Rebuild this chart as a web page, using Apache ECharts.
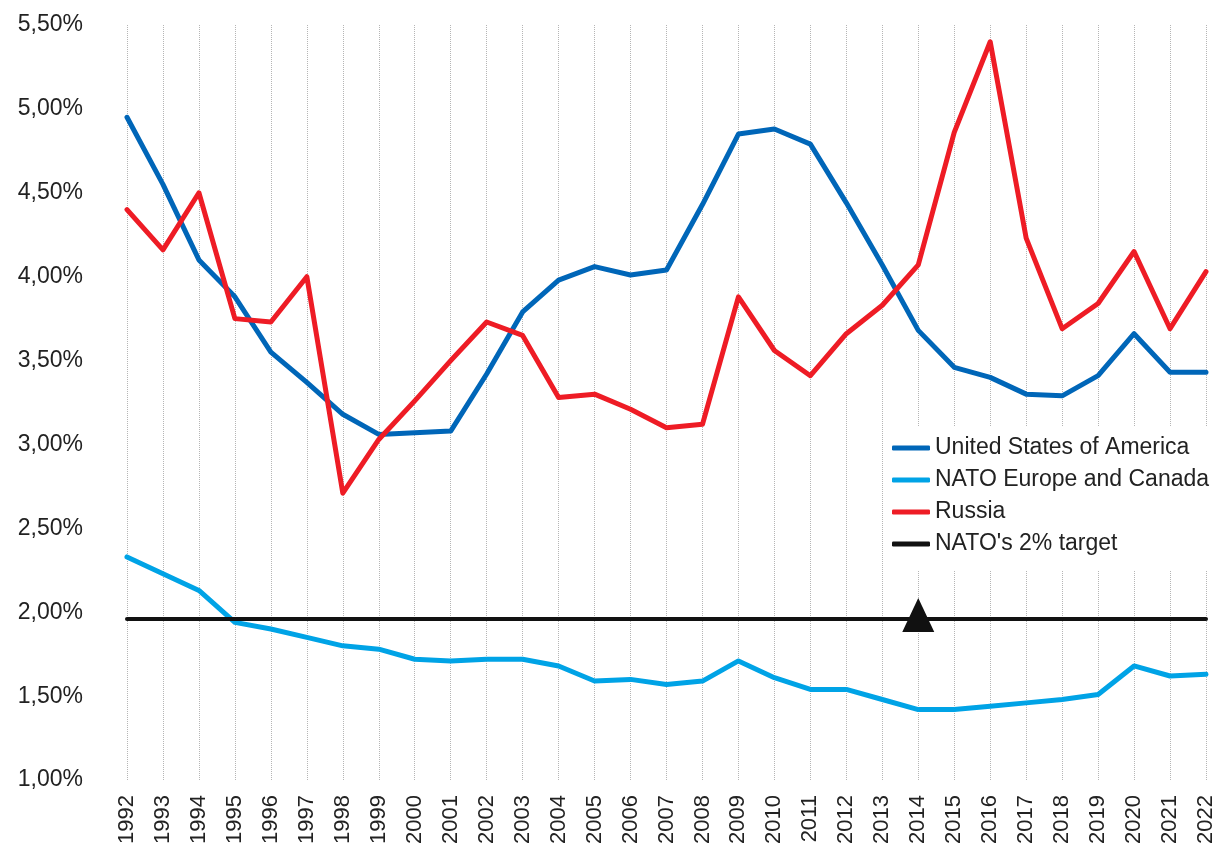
<!DOCTYPE html>
<html>
<head>
<meta charset="utf-8">
<script src="https://cdn.jsdelivr.net/npm/echarts@6/dist/echarts.min.js"></script>
<style>
  html, body { margin: 0; padding: 0; background: #fff; }
  #chart { width: 1217px; height: 847px; }
</style>
</head>
<body>
<div id="chart"></div>
<script>
const years = ['1992','1993','1994','1995','1996','1997','1998','1999','2000','2001','2002','2003','2004','2005','2006','2007','2008','2009','2010','2011','2012','2013','2014','2015','2016','2017','2018','2019','2020','2021','2022']

// military spending as % of GDP
const usa = [4.95, 4.55, 4.10, 3.88, 3.55, 3.37, 3.18, 3.06, 3.07, 3.08, 3.42, 3.79, 3.98, 4.06, 4.01, 4.04, 4.43, 4.85, 4.88, 4.79, 4.44, 4.07, 3.68, 3.46, 3.40, 3.30, 3.29, 3.41, 3.66, 3.43, 3.43]
const natoEurope = [2.33, 2.23, 2.13, 1.94, 1.90, 1.85, 1.80, 1.78, 1.72, 1.71, 1.72, 1.72, 1.68, 1.59, 1.60, 1.57, 1.59, 1.71, 1.61, 1.54, 1.54, 1.48, 1.42, 1.42, 1.44, 1.46, 1.48, 1.51, 1.68, 1.62, 1.63]
const russia = [4.40, 4.16, 4.50, 3.75, 3.73, 4.00, 2.71, 3.03, 3.26, 3.50, 3.73, 3.65, 3.28, 3.30, 3.21, 3.10, 3.12, 3.88, 3.56, 3.41, 3.66, 3.83, 4.07, 4.86, 5.40, 4.23, 3.69, 3.84, 4.15, 3.69, 4.03]
const targetLine = [['1992', 1.96], ['2022', 1.96]]
const targetMarkYear = '2014'

const chart = echarts.init(document.getElementById('chart'))
const font = 'Liberation Sans, Arial, sans-serif'

const mainLine = (name, data, color) => ({
  name,
  type: 'line',
  data,
  symbol: 'none',
  lineStyle: { width: 5, color, cap: 'round', join: 'round' },
  itemStyle: { color },
  z: 3
})

chart.setOption({
  animation: false,
  grid: { left: 127, right: 10, top: 25, bottom: 65 },
  legend: {
    orient: 'vertical',
    left: 886,
    top: 427,
    backgroundColor: '#fff',
    padding: [9, 20, 14, 6],
    itemWidth: 38,
    itemHeight: 5,
    itemGap: 8,
    icon: 'roundRect',
    textStyle: { fontFamily: font, fontSize: 23, color: '#222', lineHeight: 24 },
    data: ['United States of America', 'NATO Europe and Canada', 'Russia', "NATO's 2% target"],
    z: 10
  },
  xAxis: {
    type: 'category',
    data: years,
    boundaryGap: false,
    axisLine: { show: false },
    axisTick: { show: false },
    axisLabel: { rotate: 90, fontFamily: font, fontSize: 22, color: '#222', margin: 15 },
    splitLine: { show: true, lineStyle: { type: 'dotted', color: '#b5b5b5', width: 1 } }
  },
  yAxis: {
    type: 'value',
    min: 1,
    max: 5.5,
    interval: 0.5,
    axisLine: { show: false },
    axisTick: { show: false },
    splitLine: { show: false },
    axisLabel: {
      fontFamily: font,
      fontSize: 23,
      color: '#222',
      margin: 44,
      formatter: v => v.toFixed(2).replace('.', ',') + '%'
    }
  },
  series: [
    mainLine('United States of America', usa, '#0066B8'),
    mainLine('NATO Europe and Canada', natoEurope, '#00A3E6'),
    mainLine('Russia', russia, '#EE1C25'),
    {
      name: "NATO's 2% target",
      type: 'line',
      data: targetLine,
      symbol: 'none',
      lineStyle: { width: 4, color: '#111', cap: 'round' },
      itemStyle: { color: '#111' },
      z: 4,
      markPoint: {
        symbol: 'triangle',
        symbolSize: [32, 34],
        symbolOffset: [0, -4],
        itemStyle: { color: '#111' },
        label: { show: false },
        data: [{ coord: [targetMarkYear, 1.96] }]
      }
    }
  ]
})

window.addEventListener('resize', () => chart.resize())
</script>
</body>
</html>
